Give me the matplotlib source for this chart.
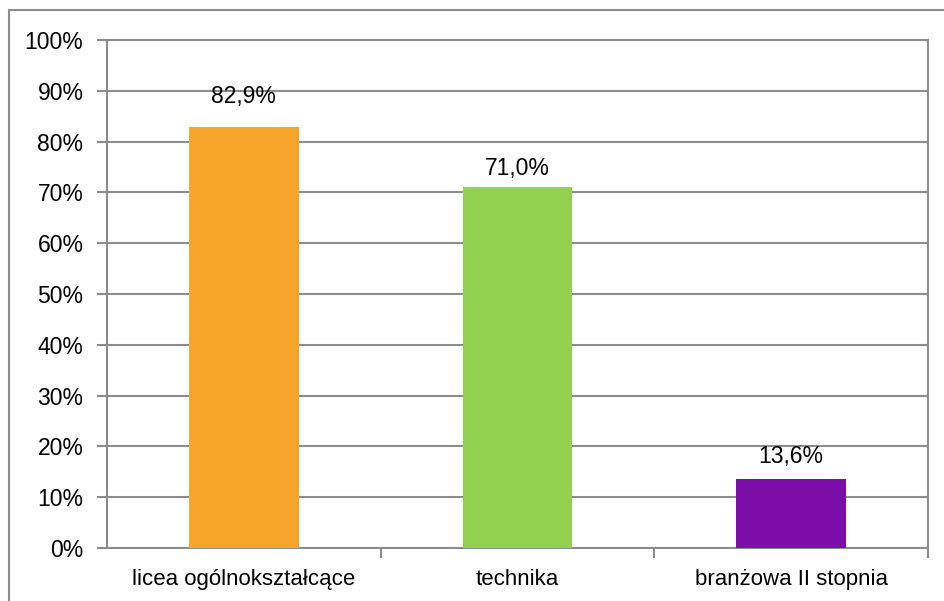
import matplotlib.pyplot as plt
import matplotlib.patches as mpatches
from matplotlib.ticker import FuncFormatter, FixedLocator

plt.rcParams['font.family'] = ['Liberation Sans', 'DejaVu Sans']
plt.rcParams['font.size'] = 16.5

categories = ['licea ogólnokształcące', 'technika', 'branżowa II stopnia']
values = [82.9, 71.0, 13.6]
colors = ['#F7A42B', '#92D050', '#7B0EA8']
grid_col = '#8C8C8C'

fig = plt.figure(figsize=(9.45, 6.01), dpi=100)
ax = fig.add_axes([107/945, 1-548/601, 821/945, 508/601])

x = range(len(categories))
ax.bar(x, values, width=0.4, color=colors, zorder=3)
# label gaps above bars as placed in the source chart
label_gap = [17.3, 9.1, 11.3]
for i, v in enumerate(values):
    ax.annotate(f'{v:.1f}%'.replace('.', ','), (i, v), xytext=(0, label_gap[i]),
                textcoords='offset points', ha='center', va='baseline', fontsize=16.5)

ax.set_xlim(-0.5, 2.5)
ax.set_ylim(0, 100)
ax.set_yticks(range(0, 101, 10))
ax.yaxis.set_major_formatter(FuncFormatter(lambda v, p: f'{int(v)}%'))
ax.set_xticks(list(x))
ax.set_xticklabels(categories, fontsize=16)
ax.xaxis.set_minor_locator(FixedLocator([0.5, 1.5, 2.5]))
ax.tick_params(axis='x', which='major', length=0, pad=15)
ax.tick_params(axis='x', which='minor', length=7, width=1.5, color=grid_col)
ax.tick_params(axis='y', length=7, width=1.5, color=grid_col, pad=10)
ax.grid(axis='y', color=grid_col, linewidth=1.5, zorder=0)
for s in ax.spines.values():
    s.set_color(grid_col)
    s.set_linewidth(1.5)

# outer chart border (cut off on right and bottom)
fig.patches.append(mpatches.Rectangle((9/945, -0.1), 1.2, 1-10/601+0.1,
                                      transform=fig.transFigure, fill=False,
                                      edgecolor=grid_col, linewidth=1.5))

fig.savefig('out.png', dpi=100)
